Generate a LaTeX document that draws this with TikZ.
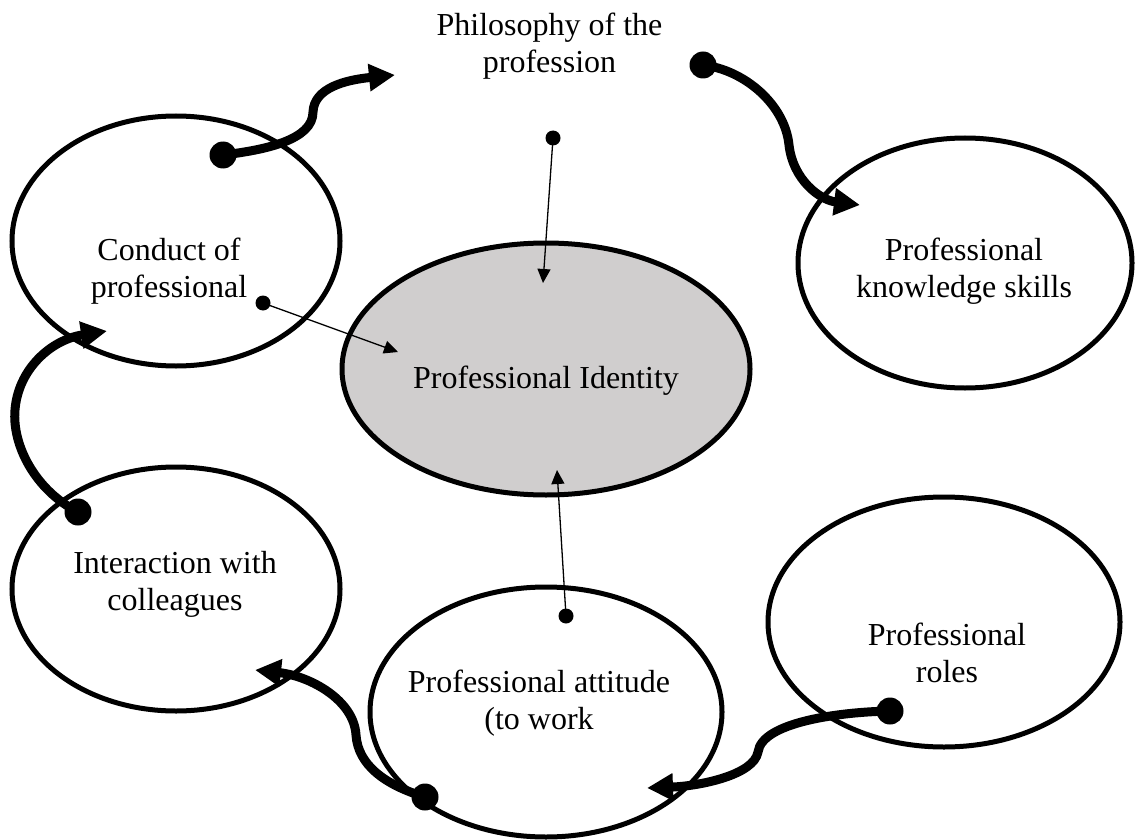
\documentclass[tikz,border=0pt]{standalone}
\usepackage{fontspec}
\setmainfont{Liberation Serif}
\usetikzlibrary{shapes.geometric,arrows.meta}
\definecolor{idgray}{RGB}{208,206,206}
\begin{document}
\begin{tikzpicture}[x=1pt,y=-1pt,
  bubble/.style={ellipse,draw,line width=5pt,inner sep=0pt},
  caption/.style={align=center,inner sep=0pt,font=\fontsize{32}{37}\selectfont},
  bigdot/.style={circle,fill=black,inner sep=0pt,minimum size=27pt},
  smalldot/.style={circle,fill=black,inner sep=0pt,minimum size=15pt},
  flow/.style={line width=9pt,-{Triangle[length=26pt,width=26pt]}},
  feed/.style={line width=1.3pt,-{Triangle[length=14pt,width=13pt]}}]
\useasboundingbox (0,0) rectangle (1135,840);

% outer aspects and the central identity
\node[bubble,minimum width=328pt,minimum height=250pt] (conduct) at (176,241) {};
\node[bubble,minimum width=328pt,minimum height=244pt] (interact) at (176,589) {};
\node[bubble,minimum width=352pt,minimum height=250pt] (attitude) at (546,712) {};
\node[bubble,minimum width=352pt,minimum height=250pt] (roles) at (944,622) {};
\node[bubble,minimum width=334pt,minimum height=250pt] (knowledge) at (965,263) {};
\node[bubble,fill=idgray,minimum width=408pt,minimum height=252pt] (identity) at (546,369) {};

% captions
\node[caption] (philText) at (549.5,46) {Philosophy of the\\profession};
\node[caption] (conductText) at (169,271) {Conduct of\\professional};
\node[caption] (knowText) at (964,271) {Professional\\knowledge skills};
\node[caption] (idText) at (546,380.5) {Professional Identity};
\node[caption] (interText) at (175,584) {Interaction with\\colleagues};
\node[caption] (attText) at (539,703.4) {Professional attitude\\(to work};
\node[caption] (rolesText) at (947,652.5) {Professional\\roles};

% cycle of thick curved arrows
\node[bigdot] (dA) at (223,155) {};
\coordinate (tA) at (395,75);
\draw[flow] (dA.center) .. controls (265,150) and (313,140) .. (313,112)
  .. controls (314,88) and (345,80) .. (tA);

\node[bigdot] (dB) at (703,65) {};
\coordinate (tB) at (860,205);
\draw[flow] (dB.center) .. controls (745,70) and (785,105) .. (789,145)
  .. controls (793,180) and (820,200) .. (tB);

\node[bigdot] (dC) at (78,512) {};
\coordinate (tC) at (107,331);
\draw[flow] (dC.center) .. controls (35,490) and (12,445) .. (15,410)
  .. controls (18,370) and (50,340) .. (tC);

\node[bigdot] (dD) at (425,797) {};
\coordinate (tD) at (255,670);
\draw[flow] (dD.center) .. controls (385,785) and (358,765) .. (356,735)
  .. controls (354,700) and (310,676) .. (tD);

\node[bigdot] (dE) at (890,711) {};
\coordinate (tE) at (647,788);
\draw[flow] (dE.center) .. controls (840,712) and (762,722) .. (758,752)
  .. controls (754,775) and (700,786) .. (tE);

% thin arrows into the identity
\node[smalldot] (dF) at (553,138) {};
\coordinate (tF) at (543,283);
\draw[feed] (dF.center) -- (tF);

\node[smalldot] (dG) at (263,303) {};
\coordinate (tG) at (398,352);
\draw[feed] (dG.center) -- (tG);

\node[smalldot] (dH) at (566,616) {};
\coordinate (tH) at (557,470);
\draw[feed] (dH.center) -- (tH);
\end{tikzpicture}
\end{document}
